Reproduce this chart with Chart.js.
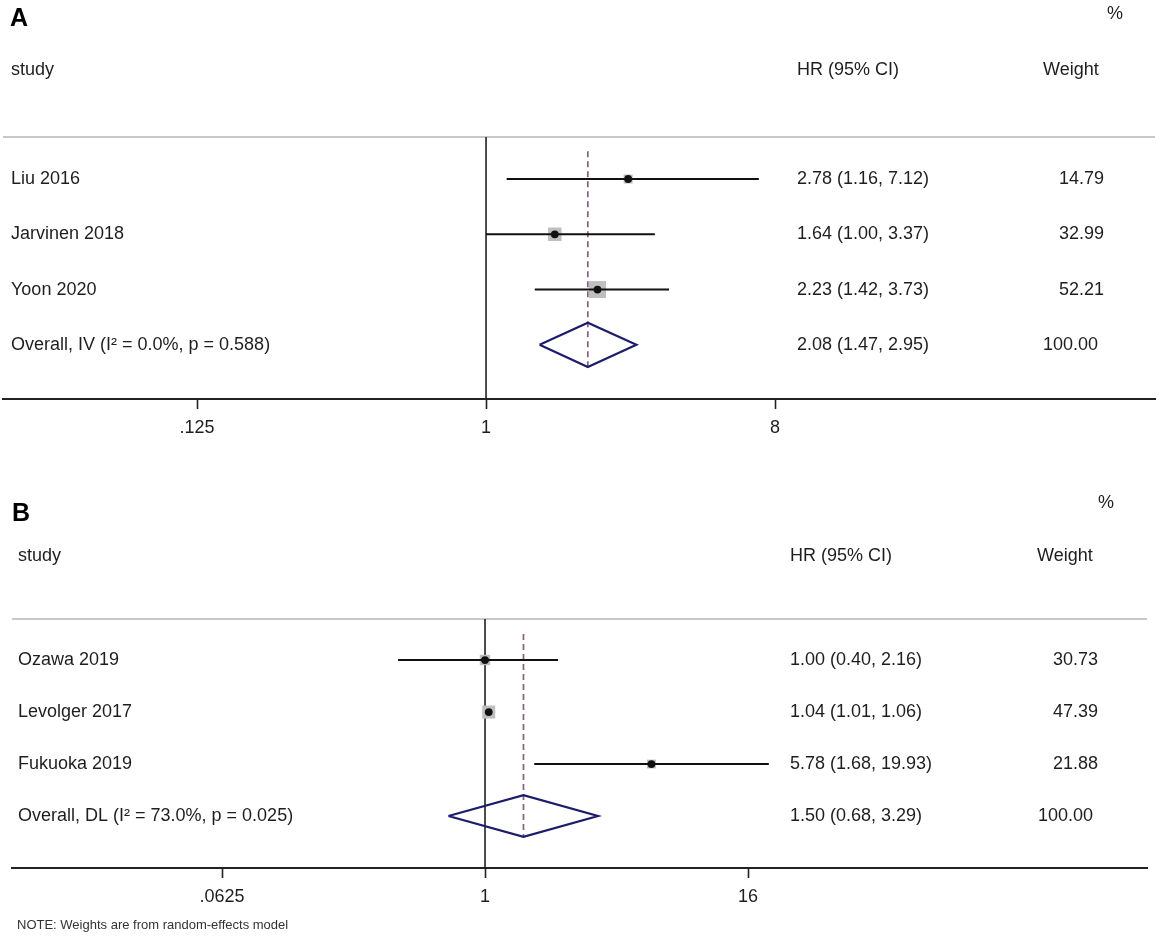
<!DOCTYPE html>
<html><head><meta charset="utf-8">
<script src="https://cdn.jsdelivr.net/npm/chart.js@4.4.1/dist/chart.umd.min.js"></script>
<style>
html,body{margin:0;padding:0;background:#fff;}
#wrap{position:relative;width:1162px;height:937px;overflow:hidden;background:#fff;}
.panel{position:absolute;left:0;width:1162px;}
#pa{top:0;height:465px;}
#pb{top:465px;height:472px;}
</style></head><body>
<div id="wrap">
  <div class="panel" id="pa"><canvas id="ca"></canvas></div>
  <div class="panel" id="pb"><canvas id="cb"></canvas></div>
</div>
<script>
// ---------- Panel A data ----------
const studiesA = ['Liu 2016', 'Jarvinen 2018', 'Yoon 2020'];
const hrA = [2.78, 1.64, 2.23];
const lowerA = [1.16, 1.00, 1.42];
const upperA = [7.12, 3.37, 3.73];
const weightA = [14.79, 32.99, 52.21];
const overallLabelA = 'Overall, IV (I² = 0.0%, p = 0.588)';
const overallA = [2.08, 1.47, 2.95];   // HR, lower, upper
const overallWeightA = 100.00;
const tickValuesA = [0.125, 1, 8];
const tickLabelsA = ['.125', '1', '8'];

// ---------- Panel B data ----------
const studiesB = ['Ozawa 2019', 'Levolger 2017', 'Fukuoka 2019'];
const hrB = [1.00, 1.04, 5.78];
const lowerB = [0.40, 1.01, 1.68];
const upperB = [2.16, 1.06, 19.93];
const weightB = [30.73, 47.39, 21.88];
const overallLabelB = 'Overall, DL (I² = 73.0%, p = 0.025)';
const overallB = [1.50, 0.68, 3.29];
const overallWeightB = 100.00;
const tickValuesB = [0.0625, 1, 16];
const tickLabelsB = ['.0625', '1', '16'];
const noteB = 'NOTE: Weights are from random-effects model';

const FONT = '"Liberation Sans", Arial, Helvetica, sans-serif';
const TXT = '#1e1e1e';

function fmt(v){ return v.toFixed(2); }

function buildDatasets(p){
  const ds = [];
  const n = p.studies.length;
  const pts = p.hr.map((v,i)=>({x:v, y:i}));
  ds.push({type:'scatter', data:pts, pointStyle:'circle', pointRadius:3.9,
           pointBackgroundColor:'#111', pointBorderWidth:0, order:0});
  p.studies.forEach((s,i)=>{
    ds.push({type:'line', data:[{x:p.lower[i],y:i},{x:p.upper[i],y:i}],
             borderColor:'#111', borderWidth:2, pointRadius:0, order:1});
  });
  ds.push({type:'scatter', data:pts, pointStyle:'rect',
           pointRadius:p.weight.map(w=>p.boxK*Math.sqrt(w)/Math.SQRT2),
           pointBackgroundColor:'#bfbfbf', pointBorderWidth:0, order:2});
  const o = p.overall[0], lo = p.overall[1], hi = p.overall[2], h = 0.4;
  ds.push({type:'line', data:[{x:lo,y:n},{x:o,y:n-h},{x:hi,y:n},{x:o,y:n+h},{x:lo,y:n}],
           borderColor:'#1c1c6b', borderWidth:2.2, pointRadius:0, tension:0,
           borderJoinStyle:'miter', fill:false, order:3});
  ds.push({type:'line', data:[{x:o,y:-0.5},{x:o,y:n+h}],
           borderColor:'#86607a', borderWidth:1.7, borderDash:[6,4], pointRadius:0, order:4});
  ds.push({type:'line', data:[{x:1,y:p.yMin},{x:1,y:p.yMax}],
           borderColor:'#222', borderWidth:1.6, pointRadius:0, order:5});
  return ds;
}

function textPlugin(p){
  return {
    id:'forestText'+p.letter,
    beforeDatasetsDraw(chart){
      const ctx = chart.ctx, a = chart.chartArea;
      ctx.save();
      ctx.strokeStyle = '#c8c8c8'; ctx.lineWidth = 2;
      ctx.beginPath(); ctx.moveTo(a.left, a.top); ctx.lineTo(a.right, a.top); ctx.stroke();
      ctx.restore();
    },
    afterDraw(chart){
      const ctx = chart.ctx, ys = chart.scales.y;
      const n = p.studies.length;
      ctx.save();
      ctx.textBaseline = 'middle';
      ctx.fillStyle = '#000';
      ctx.textAlign = 'left';
      ctx.font = 'bold 25px ' + FONT;
      ctx.fillText(p.letter, p.letterX, p.letterY);
      ctx.fillStyle = TXT;
      ctx.font = '18px ' + FONT;
      ctx.fillText('%', p.pctX, p.pctY);
      ctx.fillText('study', p.labelX, p.headY);
      ctx.fillText('HR (95% CI)', p.hrX, p.headY);
      ctx.fillText('Weight', p.wHeadX, p.headY);
      for (let i=0;i<n;i++){
        const y = ys.getPixelForValue(i);
        ctx.textAlign = 'left';
        ctx.fillText(p.studies[i], p.labelX, y);
        ctx.fillText(fmt(p.hr[i])+' ('+fmt(p.lower[i])+', '+fmt(p.upper[i])+')', p.hrX, y);
        ctx.textAlign = 'right';
        ctx.fillText(fmt(p.weight[i]), p.wRight, y);
      }
      const yo = ys.getPixelForValue(n);
      ctx.textAlign = 'left';
      ctx.fillText(p.overallLabel, p.labelX, yo);
      ctx.fillText(fmt(p.overall[0])+' ('+fmt(p.overall[1])+', '+fmt(p.overall[2])+')', p.hrX, yo);
      ctx.textAlign = 'right';
      ctx.fillText(fmt(p.overallWeight), p.wRightOverall, yo);
      if (p.note){
        ctx.textAlign = 'left';
        ctx.font = '13px ' + FONT;
        ctx.fillStyle = '#333';
        ctx.fillText(p.note, p.noteX, p.noteY);
      }
      ctx.restore();
    }
  };
}

function makePanel(canvasId, p){
  const W = 1162;
  new Chart(document.getElementById(canvasId), {
    type:'scatter',
    data:{datasets:buildDatasets(p)},
    options:{
      responsive:true, maintainAspectRatio:false, animation:false,
      layout:{autoPadding:false, padding:{top:p.top, left:p.left, right:W-p.right, bottom:0}},
      plugins:{legend:{display:false}, tooltip:{enabled:false}},
      scales:{
        x:{
          type:'logarithmic', position:'bottom',
          min:Math.pow(2,p.log2Min), max:Math.pow(2,p.log2Max),
          afterBuildTicks:(scale)=>{ scale.ticks = p.tickValues.map(v=>({value:v})); },
          afterFit:(scale)=>{ scale.height = p.axisH; },
          ticks:{
            autoSkip:false, maxRotation:0, minRotation:0, padding:8,
            color:TXT, font:{family:FONT, size:18},
            callback:(val, idx)=>p.tickLabels[idx]
          },
          grid:{display:true, drawOnChartArea:false, drawTicks:true, tickLength:10,
                tickColor:'#222', tickWidth:1.6, color:'#222'},
          border:{display:true, color:'#222', width:2}
        },
        y:{type:'linear', reverse:true, min:p.yMin, max:p.yMax, display:false}
      }
    },
    plugins:[textPlugin(p)]
  });
}

makePanel('ca', {
  letter:'A', studies:studiesA, hr:hrA, lower:lowerA, upper:upperA, weight:weightA,
  overall:overallA, overallLabel:overallLabelA, overallWeight:overallWeightA,
  tickValues:tickValuesA, tickLabels:tickLabelsA,
  left:3, right:1155, top:137, axisH:66, log2Min:-5.014, log2Max:6.944,
  yMin:-0.76, yMax:3.98, boxK:2.35,
  letterX:10, letterY:19, pctX:1107, pctY:14, headY:70, labelX:11, hrX:797,
  wHeadX:1043, wRight:1104, wRightOverall:1098
});

makePanel('cb', {
  letter:'B', studies:studiesB, hr:hrB, lower:lowerB, upper:upperB, weight:weightB,
  overall:overallB, overallLabel:overallLabelB, overallWeight:overallWeightB,
  tickValues:tickValuesB, tickLabels:tickLabelsB,
  left:12, right:1147, top:154, axisH:69, log2Min:-7.194, log2Max:10.068,
  yMin:-0.79, yMax:4.0, boxK:1.89,
  letterX:12, letterY:49, pctX:1098, pctY:38, headY:91, labelX:18, hrX:790,
  wHeadX:1037, wRight:1098, wRightOverall:1093,
  note:noteB, noteX:17, noteY:460
});
</script>
</body></html>
